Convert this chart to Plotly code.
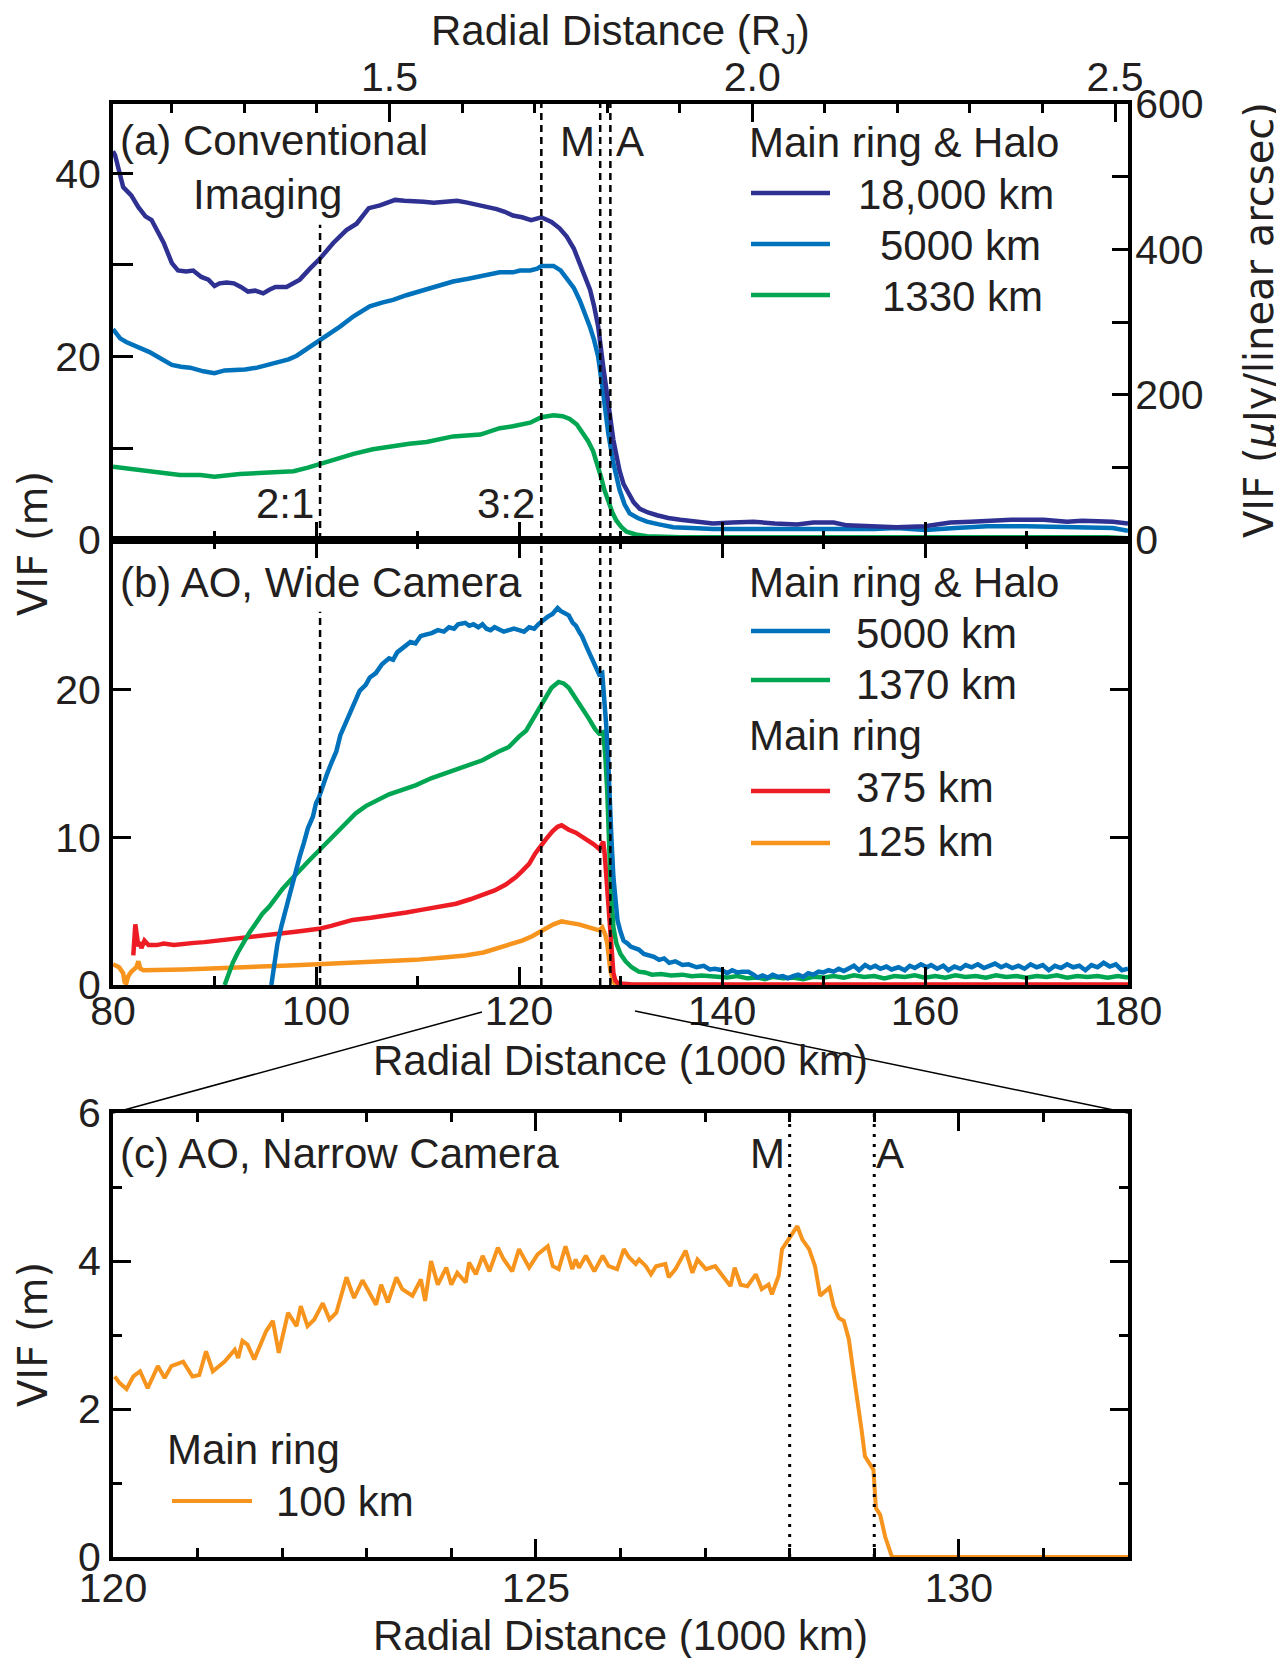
import plotly.graph_objects as go

# ---------------- data ----------------
RJ_KM = 71.492  # 1000 km per Jupiter radius

# Panel (a) conventional imaging: (radial distance [1000 km], VIF [m])
a_18000km = [(80.0, 42.4), (80.2, 42.0), (81.0, 38.5), (81.8, 37.6), (82.5, 36.3), (83.2, 35.3), (83.8, 34.9),
             (84.4, 33.7), (85.0, 32.4), (85.8, 30.2), (86.4, 29.4), (87.2, 29.3), (87.9, 29.4), (88.7, 28.7),
             (89.4, 28.4), (90.0, 27.7), (90.5, 28.0), (91.2, 28.1), (91.9, 28.0), (92.6, 27.6), (93.3, 27.1),
             (94.0, 27.2), (94.8, 26.9), (95.4, 27.3), (96.0, 27.6), (97.1, 27.6), (98.4, 28.4), (99.4, 29.6),
             (100.4, 30.7), (101.7, 32.4), (103.0, 33.8), (104.0, 34.5), (104.6, 35.4), (105.2, 36.2),
             (106.3, 36.5), (107.0, 36.8), (107.8, 37.1), (108.7, 37.0), (109.6, 37.0), (110.6, 36.9),
             (111.6, 36.8), (112.8, 36.9), (113.9, 37.0), (114.9, 36.8), (115.8, 36.6), (116.8, 36.4),
             (117.8, 36.1), (118.6, 35.8), (119.4, 35.4), (120.3, 35.2), (121.2, 34.9), (122.2, 35.2),
             (123.2, 34.7), (124.0, 34.0), (124.7, 33.1), (125.4, 31.8), (126.0, 30.2), (126.5, 28.9),
             (127.0, 27.3), (127.4, 25.5), (127.8, 23.3), (128.3, 18.9), (128.8, 14.5), (129.3, 10.9),
             (129.9, 7.6), (130.3, 6.1), (130.8, 5.1), (131.3, 4.1), (131.9, 3.4), (132.7, 3.0), (133.6, 2.7),
             (134.7, 2.4), (135.9, 2.2), (137.5, 2.0), (139.1, 1.8), (141.0, 1.9), (143.1, 2.0), (145.2, 1.8),
             (147.4, 1.7), (149.0, 1.9), (151.0, 1.9), (152.3, 1.6), (154.3, 1.5), (157.2, 1.4), (160.0, 1.5),
             (162.5, 1.9), (164.5, 2.0), (166.1, 2.1), (168.5, 2.2), (171.7, 2.2), (174.0, 2.0), (175.5, 2.1),
             (177.2, 2.1), (178.5, 2.0), (180.0, 1.8)]
a_5000km = [(80.0, 23.0), (80.7, 22.0), (81.3, 21.6), (82.0, 21.3), (82.8, 20.9), (83.6, 20.5), (84.7, 19.8),
            (85.8, 19.1), (86.7, 18.9), (87.6, 18.8), (88.9, 18.4), (90.0, 18.2), (91.0, 18.5), (91.9, 18.5),
            (93.0, 18.6), (94.2, 18.8), (95.4, 19.1), (96.5, 19.4), (97.3, 19.7), (98.1, 20.1), (98.8, 20.6),
            (99.4, 21.1), (100.4, 21.8), (101.4, 22.6), (102.4, 23.3), (103.7, 24.4), (104.5, 25.0),
            (105.3, 25.5), (106.5, 25.9), (107.6, 26.2), (108.9, 26.7), (110.2, 27.1), (111.8, 27.6),
            (113.5, 28.2), (115.0, 28.5), (116.5, 28.8), (117.3, 29.0), (118.1, 29.2), (119.4, 29.2),
            (120.1, 29.4), (121.1, 29.4), (121.8, 29.6), (122.2, 29.9), (123.4, 29.9), (124.1, 29.4),
            (124.7, 28.6), (125.4, 27.5), (126.0, 26.1), (126.5, 24.8), (127.0, 23.2), (127.4, 21.8),
            (127.8, 20.0), (128.3, 16.0), (128.8, 11.6), (129.3, 8.4), (129.9, 5.5), (130.4, 3.9), (130.9, 2.9),
            (131.7, 2.4), (132.6, 2.0), (133.8, 1.7), (135.2, 1.4), (137.0, 1.3), (139.1, 1.2), (142.0, 1.2),
            (145.7, 1.2), (149.0, 1.2), (152.0, 1.1), (155.0, 1.2), (157.2, 1.3), (160.0, 1.1), (163.0, 1.3),
            (166.1, 1.5), (170.0, 1.5), (174.0, 1.4), (177.0, 1.4), (178.5, 1.3), (180.0, 1.0)]
a_1330km = [(80.0, 8.0), (82.0, 7.7), (84.6, 7.4), (86.6, 7.1), (88.6, 7.1), (90.0, 6.9), (92.5, 7.2),
            (95.1, 7.3), (97.8, 7.5), (99.2, 7.9), (100.4, 8.3), (102.0, 8.9), (103.7, 9.4), (105.6, 9.9),
            (107.6, 10.3), (109.2, 10.5), (110.9, 10.7), (113.5, 11.3), (116.2, 11.5), (118.1, 12.2),
            (119.4, 12.4), (120.1, 12.6), (121.1, 12.8), (122.2, 13.4), (123.4, 13.6), (124.3, 13.5),
            (125.0, 13.2), (125.7, 12.6), (126.3, 11.7), (126.8, 10.8), (127.3, 9.7), (127.7, 8.4),
            (128.1, 6.8), (128.4, 5.5), (128.8, 4.2), (129.2, 3.0), (129.6, 2.1), (130.1, 1.4), (130.6, 0.9),
            (131.5, 0.6), (132.6, 0.4), (135.9, 0.3), (150.0, 0.3), (170.0, 0.35), (178.0, 0.3), (180.0, 0.2)]

# Panel (b) AO wide camera
b_5000km = [(95.6, 0.0), (95.9, 1.3), (96.2, 2.8), (96.6, 4.0), (97.0, 5.1), (97.5, 6.4), (98.0, 7.6),
            (98.4, 8.7), (98.8, 9.6), (99.2, 10.6), (99.7, 11.4), (100.0, 12.3), (100.3, 12.7), (100.7, 13.6),
            (101.1, 14.3), (101.5, 15.0), (102.0, 15.8), (102.4, 16.9), (102.9, 17.7), (103.4, 18.4),
            (103.9, 19.3), (104.3, 19.9), (104.9, 20.3), (105.3, 20.8), (105.9, 21.1), (106.5, 21.7),
            (107.2, 22.1), (107.6, 22.0), (108.0, 22.5), (108.8, 22.9), (109.3, 23.2), (109.8, 23.1),
            (110.3, 23.6), (110.8, 23.7), (111.4, 23.8), (112.0, 24.0), (112.6, 23.9), (113.1, 24.2),
            (113.6, 24.1), (114.0, 24.4), (114.7, 24.5), (115.1, 24.3), (115.5, 24.4), (116.0, 24.2),
            (116.4, 24.4), (116.8, 24.1), (117.2, 24.0), (117.6, 24.2), (118.0, 24.1), (118.5, 23.9),
            (119.0, 24.0), (119.5, 24.1), (120.0, 24.0), (120.5, 23.9), (121.0, 24.2), (121.5, 24.1),
            (121.9, 24.4), (122.4, 24.7), (122.8, 24.9), (123.3, 25.1), (123.8, 25.5), (124.1, 25.3),
            (124.4, 25.2), (124.9, 25.0), (125.3, 24.5), (125.6, 24.3), (126.0, 23.8), (126.2, 23.6),
            (126.7, 22.8), (127.2, 22.0), (127.6, 21.4), (127.9, 21.0), (128.2, 21.1), (128.4, 19.5),
            (128.6, 17.5), (128.8, 15.0), (128.9, 13.0), (129.1, 10.0), (129.3, 7.3), (129.5, 5.6),
            (129.7, 4.4), (130.0, 3.6), (130.3, 3.0), (130.7, 2.8), (131.0, 2.6), (131.4, 2.5), (131.8, 2.4),
            (132.3, 2.1), (132.8, 2.0), (133.3, 1.9), (133.8, 1.7), (134.3, 1.8), (134.8, 1.5), (135.4, 1.6),
            (136.1, 1.35), (136.7, 1.4), (137.5, 1.2), (138.2, 1.3), (138.8, 1.05), (139.3, 1.1), (140.0, 1.0),
            (140.5, 0.8), (141.0, 1.0), (141.5, 0.85), (142.0, 0.9), (142.6, 0.9), (143.1, 0.7), (143.5, 0.5),
            (144.0, 0.65), (144.5, 0.5), (145.0, 0.7), (145.5, 0.55), (146.0, 0.6), (146.5, 0.45), (147.0, 0.6),
            (147.5, 0.7), (148.0, 0.55), (148.5, 0.8), (149.0, 0.7), (149.5, 0.9), (150.0, 0.85), (150.5, 1.0),
            (151.0, 0.9), (151.5, 1.1), (152.0, 0.95), (152.5, 1.15), (153.0, 1.3), (153.5, 1.0), (154.1, 1.35),
            (154.6, 1.15), (155.1, 1.3), (155.6, 1.1), (156.2, 1.25), (156.7, 1.05), (157.4, 1.2), (158.0, 1.0),
            (158.5, 1.3), (159.0, 1.15), (159.6, 1.4), (160.2, 1.2), (160.6, 1.35), (161.2, 1.1), (161.8, 1.3),
            (162.3, 1.0), (162.9, 1.25), (163.5, 1.1), (164.0, 1.35), (164.6, 1.2), (165.2, 1.4), (165.8, 1.15),
            (166.3, 1.3), (166.9, 1.45), (167.5, 1.2), (168.0, 1.35), (168.6, 1.15), (169.2, 1.3), (169.8, 1.1),
            (170.4, 1.4), (171.0, 1.2), (171.6, 1.35), (172.2, 1.0), (172.8, 1.3), (173.4, 1.15), (174.0, 1.4),
            (174.6, 1.2), (175.2, 1.3), (175.8, 1.0), (176.4, 1.35), (177.0, 1.2), (177.6, 1.5), (178.2, 1.25),
            (178.8, 1.4), (179.4, 1.0), (180.0, 1.1)]
b_1370km = [(91.0, 0.0), (91.4, 0.8), (91.8, 1.5), (92.3, 2.2), (92.8, 2.8), (93.4, 3.5), (94.1, 4.2),
            (94.7, 4.8), (95.4, 5.3), (96.0, 5.9), (96.7, 6.5), (97.5, 7.1), (98.4, 7.7), (99.3, 8.4),
            (100.3, 9.1), (101.0, 9.6), (101.6, 10.0), (102.3, 10.5), (103.0, 11.0), (103.9, 11.6),
            (104.9, 12.1), (106.0, 12.5), (107.2, 12.9), (108.5, 13.2), (109.8, 13.5), (111.4, 14.0),
            (113.1, 14.4), (114.8, 14.8), (116.4, 15.2), (118.0, 15.8), (119.0, 16.1), (120.0, 16.8),
            (120.7, 17.2), (121.3, 17.9), (122.0, 18.7), (122.6, 19.5), (123.2, 20.1), (123.9, 20.5),
            (124.4, 20.4), (124.9, 20.1), (125.5, 19.5), (126.2, 18.8), (126.9, 18.0), (127.5, 17.3),
            (127.9, 17.0), (128.3, 17.1), (128.5, 15.5), (128.7, 13.0), (129.0, 7.3), (129.3, 3.9),
            (129.6, 2.8), (130.0, 2.1), (130.5, 1.6), (131.1, 1.2), (131.8, 0.9), (132.4, 0.85), (133.1, 0.7),
            (134.0, 0.75), (135.0, 0.65), (136.1, 0.7), (137.0, 0.6), (138.0, 0.65), (139.3, 0.55),
            (140.5, 0.5), (141.5, 0.6), (142.5, 0.45), (143.5, 0.5), (144.2, 0.4), (145.0, 0.55), (146.0, 0.45),
            (147.0, 0.5), (148.0, 0.4), (149.0, 0.55), (150.0, 0.5), (151.0, 0.6), (152.0, 0.5), (153.0, 0.65),
            (154.0, 0.55), (155.0, 0.6), (156.0, 0.45), (157.0, 0.6), (158.0, 0.55), (159.0, 0.65),
            (160.0, 0.5), (161.0, 0.6), (162.0, 0.5), (163.0, 0.65), (164.0, 0.55), (165.0, 0.6), (166.0, 0.5),
            (167.0, 0.65), (168.0, 0.55), (169.0, 0.6), (170.0, 0.5), (171.0, 0.6), (172.0, 0.55),
            (173.0, 0.65), (174.0, 0.5), (175.0, 0.6), (176.0, 0.55), (177.0, 0.6), (178.0, 0.5), (179.0, 0.6),
            (180.0, 0.5)]
b_375km = [(82.0, 2.0), (82.1, 3.2), (82.2, 4.1), (82.3, 3.6), (82.5, 2.6), (82.6, 2.9), (82.8, 2.5),
           (83.1, 3.0), (83.5, 2.7), (84.3, 2.7), (85.0, 2.8), (86.0, 2.7), (86.9, 2.8), (88.0, 2.85),
           (89.0, 2.9), (90.2, 3.0), (91.3, 3.1), (92.4, 3.2), (93.4, 3.3), (94.5, 3.35), (95.6, 3.45),
           (96.7, 3.5), (98.0, 3.6), (99.2, 3.7), (100.3, 3.8), (101.5, 4.0), (102.5, 4.2), (103.6, 4.4),
           (105.4, 4.55), (107.2, 4.7), (108.9, 4.9), (110.5, 5.1), (112.2, 5.3), (113.8, 5.5), (115.2, 5.8),
           (116.4, 6.1), (117.6, 6.4), (118.7, 6.8), (119.7, 7.3), (120.3, 7.7), (121.0, 8.2), (121.6, 8.9),
           (122.1, 9.4), (122.7, 9.9), (123.3, 10.4), (123.8, 10.7), (124.2, 10.8), (124.9, 10.5),
           (125.6, 10.3), (126.3, 10.0), (126.9, 9.7), (127.4, 9.5), (127.9, 9.2), (128.3, 9.7), (128.45, 8.8),
           (128.6, 7.3), (128.75, 5.6), (128.9, 3.9), (129.1, 2.2), (129.3, 0.8), (129.5, 0.3), (129.8, 0.1),
           (131.0, 0.05), (135.0, 0.04), (140.0, 0.03), (150.0, 0.03), (160.0, 0.03), (170.0, 0.03), (180.0, 0.03)]
b_125km = [(80.0, 1.4), (80.2, 1.35), (80.6, 1.2), (81.0, 0.8), (81.15, 0.2), (81.3, 0.1), (81.5, 0.6),
           (81.8, 0.9), (82.0, 1.0), (82.3, 1.2), (82.5, 1.6), (82.7, 1.1), (83.0, 1.0), (84.5, 1.0),
           (86.9, 1.05), (89.0, 1.1), (91.8, 1.2), (94.0, 1.25), (96.7, 1.3), (98.5, 1.35), (100.3, 1.4),
           (102.5, 1.5), (104.9, 1.6), (107.5, 1.65), (109.8, 1.7), (112.3, 1.85), (114.7, 2.0), (116.5, 2.2),
           (118.0, 2.5), (119.2, 2.7), (120.3, 3.0), (121.3, 3.3), (122.0, 3.6), (122.6, 3.8), (123.4, 4.1),
           (124.2, 4.3), (125.0, 4.2), (125.9, 4.1), (126.9, 3.9), (127.9, 3.7), (128.2, 3.9), (128.5, 3.4),
           (128.7, 2.8), (128.85, 1.9), (129.0, 1.0), (129.3, 0.2), (129.6, 0.0), (135.0, 0.0), (180.0, 0.0)]

# Panel (c) AO narrow camera
c_100km = [(120.02, 2.44), (120.08, 2.35), (120.16, 2.27), (120.24, 2.44), (120.32, 2.51), (120.41, 2.28),
           (120.53, 2.58), (120.61, 2.42), (120.69, 2.58), (120.83, 2.64), (120.94, 2.44), (121.02, 2.46),
           (121.10, 2.78), (121.18, 2.51), (121.32, 2.64), (121.44, 2.80), (121.48, 2.69), (121.53, 2.92),
           (121.59, 2.87), (121.67, 2.67), (121.81, 3.05), (121.89, 3.19), (121.96, 2.76), (122.07, 3.30),
           (122.17, 3.12), (122.22, 3.39), (122.30, 3.12), (122.38, 3.21), (122.48, 3.43), (122.56, 3.21),
           (122.64, 3.30), (122.76, 3.78), (122.85, 3.50), (122.95, 3.74), (123.11, 3.41), (123.17, 3.68),
           (123.25, 3.44), (123.35, 3.78), (123.42, 3.62), (123.54, 3.53), (123.64, 3.75), (123.69, 3.46),
           (123.76, 4.00), (123.84, 3.68), (123.94, 3.91), (124.00, 3.68), (124.07, 3.84), (124.17, 3.71),
           (124.21, 3.98), (124.29, 3.82), (124.37, 4.07), (124.45, 3.86), (124.55, 4.18), (124.62, 4.02),
           (124.72, 3.86), (124.80, 4.16), (124.92, 3.91), (125.02, 4.09), (125.14, 4.20), (125.20, 3.93),
           (125.27, 3.89), (125.35, 4.20), (125.43, 3.89), (125.47, 4.02), (125.51, 3.91), (125.59, 4.07),
           (125.69, 3.86), (125.79, 4.07), (125.86, 3.93), (125.96, 3.89), (126.04, 4.16), (126.10, 4.05),
           (126.18, 3.96), (126.22, 4.02), (126.30, 3.93), (126.36, 3.82), (126.42, 3.93), (126.53, 3.96),
           (126.57, 3.78), (126.65, 3.89), (126.77, 4.14), (126.85, 3.84), (126.91, 4.02), (127.01, 3.89),
           (127.12, 3.93), (127.20, 3.80), (127.30, 3.66), (127.35, 3.91), (127.42, 3.68), (127.50, 3.66),
           (127.60, 3.82), (127.67, 3.62), (127.75, 3.68), (127.79, 3.55), (127.87, 3.80), (127.91, 4.16),
           (127.99, 4.29), (128.09, 4.47), (128.15, 4.29), (128.23, 4.16), (128.30, 3.93), (128.36, 3.53),
           (128.42, 3.59), (128.47, 3.64), (128.52, 3.39), (128.58, 3.23), (128.64, 3.19), (128.70, 2.94),
           (128.76, 2.44), (128.82, 1.99), (128.85, 1.72), (128.89, 1.36), (128.95, 1.24), (128.99, 1.18),
           (129.02, 0.66), (129.07, 0.57), (129.13, 0.27), (129.21, 0.0), (132.0, 0.0)]

resonance_x = [100.4, 122.2]          # 2:1 and 3:2 resonances (1000 km)
resonance_labels = ["2:1", "3:2"]
moon_x = [128.0, 129.0]               # Metis (M), Adrastea (A)
moon_labels = ["M", "A"]

rj_major = [1.5, 2.0, 2.5]
rj_major_text = ["1.5", "2.0", "2.5"]
rj_minor = [1.2, 1.3, 1.4, 1.6, 1.7, 1.8, 1.9, 2.1, 2.2, 2.3, 2.4]

# ---------------- styling ----------------
PAGE_W, PAGE_H = 1284, 1658
OFF = 8                      # default body margin of the html page
W, H = PAGE_W - OFF, PAGE_H - OFF
C_NAVY = "#2E3192"
C_BLUE = "#0072BC"
C_GREEN = "#00A651"
C_RED = "#ED1C24"
C_ORANGE = "#F7941D"
TXT = "#231F20"
SANS = "Liberation Sans, Arial, Helvetica, sans-serif"
WIDE = "DejaVu Sans, Verdana, sans-serif"
FS = 42
TFS = 41
LW = 4.5


def px(v):
    return (v - OFF) / W


def py(v):
    return 1 - (v - OFF) / H


XDOM = [px(113), px(1128)]
YA = [py(540), py(104)]
YB = [py(985), py(540)]
YC = [py(1557), py(1113)]


def unzip(pairs):
    return [p[0] for p in pairs], [p[1] for p in pairs]


fig = go.Figure()


def add(pairs, color, xa, ya, width=LW):
    xs, ys = unzip(pairs)
    fig.add_trace(go.Scatter(x=xs, y=ys, mode="lines", line=dict(color=color, width=width),
                             xaxis=xa, yaxis=ya, showlegend=False, hoverinfo="skip"))


add(a_1330km, C_GREEN, "x", "y")
add(a_5000km, C_BLUE, "x", "y")
add(a_18000km, C_NAVY, "x", "y")
add(b_125km, C_ORANGE, "x2", "y2")
add(b_375km, C_RED, "x2", "y2")
add(b_1370km, C_GREEN, "x2", "y2")
add(b_5000km, C_BLUE, "x2", "y2")
add(c_100km, C_ORANGE, "x3", "y3", width=4)
# empty traces to register the secondary axes of panel (a)
fig.add_trace(go.Scatter(x=[], y=[], xaxis="x", yaxis="y4", showlegend=False))
fig.add_trace(go.Scatter(x=[], y=[], xaxis="x4", yaxis="y", showlegend=False))

tickfont = dict(family=SANS, size=TFS, color=TXT)
common = dict(showgrid=False, zeroline=False, showline=True, linecolor="black", linewidth=4,
              ticks="inside", tickcolor="black", tickwidth=3, tickfont=tickfont, automargin=False)

layout = dict(
    width=W, height=H, margin=dict(l=0, r=0, t=0, b=0), autosize=False,
    paper_bgcolor="white", plot_bgcolor="white", showlegend=False,
    # panel (a)
    xaxis=dict(domain=XDOM, anchor="y", range=[80, 180], tick0=80, dtick=20, ticklen=18,
               showticklabels=False, minor=dict(dtick=10, ticklen=9, tickwidth=3, tickcolor="black", ticks="inside"),
               **common),
    yaxis=dict(domain=YA, anchor="x", range=[0, 47.56], tickvals=[0, 10, 20, 30, 40],
               ticktext=["0", "", "20", "", "40"], ticklen=20, **common),
    xaxis4=dict(overlaying="x", anchor="y", side="top", range=[80 / RJ_KM, 180 / RJ_KM],
                tickvals=rj_major, ticktext=rj_major_text, ticklen=18, ticklabelstandoff=-7,
                minor=dict(tickmode="array", tickvals=rj_minor, ticklen=9, tickwidth=3,
                           tickcolor="black", ticks="inside"), **common),
    yaxis4=dict(overlaying="y", anchor="x", side="right", range=[0, 600],
                tickvals=[0, 100, 200, 300, 400, 500, 600], ticklabelstandoff=-5,
                ticktext=["0", "", "200", "", "400", "", "600"], ticklen=16, **common),
    # panel (b)
    xaxis2=dict(domain=XDOM, anchor="y2", range=[80, 180], tick0=80, dtick=20, ticklen=18, mirror="ticks",
                ticklabelstandoff=-13,
                minor=dict(dtick=10, ticklen=9, tickwidth=3, tickcolor="black", ticks="inside"), **common),
    yaxis2=dict(domain=YB, anchor="x2", range=[0, 30.1], tickvals=[0, 10, 20], ticklen=18, mirror="ticks",
                **common),
    # panel (c)
    xaxis3=dict(domain=XDOM, anchor="y3", range=[120, 132], tick0=120, dtick=5, ticklen=18, mirror="ticks",
                ticklabelstandoff=-8,
                minor=dict(dtick=1, ticklen=9, tickwidth=3, tickcolor="black", ticks="inside"), **common),
    yaxis3=dict(domain=YC, anchor="x3", range=[0, 6], tick0=0, dtick=2, ticklen=18, mirror="ticks",
                minor=dict(dtick=1, ticklen=9, tickwidth=3, tickcolor="black", ticks="inside"), **common),
)
fig.update_layout(**layout)

shapes = []
ann = []


def text(t, x, y, xanchor="left", size=FS, family=SANS, angle=0, xref="paper", xshift=0):
    ann.append(dict(text=t, x=x, y=y, xref=xref, yref="paper", xanchor=xanchor, yanchor="middle",
                    showarrow=False, textangle=angle, xshift=xshift, borderpad=0,
                    font=dict(family=family, size=size, color=TXT)))


# vertical reference lines
dash_ab = "7px,5px"
for i, xv in enumerate(resonance_x):
    top_a = 0.723 if i == 0 else 1
    top_b = 0.839 if i == 0 else 1
    shapes.append(dict(type="line", xref="x", yref="y domain", x0=xv, x1=xv, y0=0, y1=top_a,
                       line=dict(color="black", width=2.5, dash=dash_ab)))
    shapes.append(dict(type="line", xref="x2", yref="y2 domain", x0=xv, x1=xv, y0=0, y1=top_b,
                       line=dict(color="black", width=2.5, dash=dash_ab)))
for xv in moon_x:
    shapes.append(dict(type="line", xref="x", yref="y domain", x0=xv, x1=xv, y0=0, y1=1,
                       line=dict(color="black", width=2.5, dash=dash_ab)))
    shapes.append(dict(type="line", xref="x2", yref="y2 domain", x0=xv, x1=xv, y0=0, y1=1,
                       line=dict(color="black", width=2.5, dash=dash_ab)))
    shapes.append(dict(type="line", xref="x3", yref="y3 domain", x0=xv, x1=xv, y0=0, y1=1,
                       line=dict(color="black", width=3, dash="3px,7px")))

# zoom connector lines between panel (b) axis and panel (c)
shapes.append(dict(type="line", xref="paper", yref="paper", x0=px(482), y0=py(1012), x1=px(113), y1=py(1113),
                   line=dict(color="black", width=1.5)))
shapes.append(dict(type="line", xref="paper", yref="paper", x0=px(635), y0=py(1011), x1=px(1128), y1=py(1113),
                   line=dict(color="black", width=1.5)))


# legends
def legend_line(color, y, x0=751, x1=830, width=4.5):
    shapes.append(dict(type="line", xref="paper", yref="paper", x0=px(x0), x1=px(x1), y0=py(y), y1=py(y),
                       line=dict(color=color, width=width)))


text("Main ring &amp; Halo", px(748), py(143))
legend_line(C_NAVY, 193)
legend_line(C_BLUE, 244)
legend_line(C_GREEN, 295)
text("18,000 km", px(857), py(194))
text("5000 km", px(879), py(245))
text("1330 km", px(881), py(296))

text("Main ring &amp; Halo", px(748), py(582))
legend_line(C_BLUE, 631)
legend_line(C_GREEN, 680)
text("5000 km", px(855), py(633))
text("1370 km", px(855), py(684))
text("Main ring", px(748), py(736))
legend_line(C_RED, 791)
legend_line(C_ORANGE, 843)
text("375 km", px(855), py(788))
text("125 km", px(855), py(841))

text("Main ring", px(166), py(1449))
legend_line(C_ORANGE, 1501, x0=172, x1=252, width=4)
text("100 km", px(275), py(1501))

# panel labels
text("(a) Conventional", px(119), py(141))
text("Imaging", px(192), py(194))
text("(b) AO, Wide Camera", px(119), py(582))
text("(c) AO, Narrow Camera", px(119), py(1153))

# resonance / moon labels
for xv, lab in zip(resonance_x, resonance_labels):
    text(lab, xv, py(503), xanchor="right", xref="x", xshift=-5)
text(moon_labels[0], moon_x[0], py(142), xanchor="right", xref="x", xshift=-4)
text(moon_labels[1], moon_x[1], py(142), xanchor="left", xref="x", xshift=5)
text(moon_labels[0], moon_x[0], py(1153), xanchor="right", xref="x3", xshift=-4)
text(moon_labels[1], moon_x[1], py(1153), xanchor="left", xref="x3", xshift=1)

# axis titles
text("Radial Distance (R<sub>J</sub>)", px(620), py(34), xanchor="center")
text("Radial Distance (1000 km)", px(620), py(1060), xanchor="center")
text("Radial Distance (1000 km)", px(620), py(1635), xanchor="center")
text("VIF (m)", px(33), py(544), xanchor="center", family=WIDE, size=40, angle=-90)
text("VIF (m)", px(33), py(1335), xanchor="center", family=WIDE, size=40, angle=-90)
text("VIF (<i>μ</i>Jy/linear arcsec)", px(1259), py(320), xanchor="center", family=WIDE, size=40, angle=-90)

fig.update_layout(shapes=shapes, annotations=ann)
fig.write_html("out.html")
